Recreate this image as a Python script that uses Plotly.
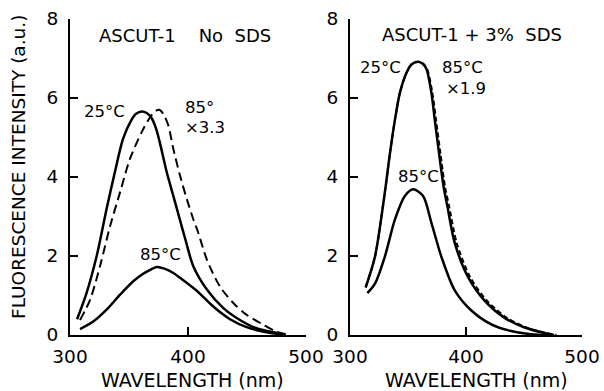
import plotly.graph_objects as go

# ---------------- data ----------------
# Left panel: ASCUT-1, no SDS
wl_L25 = [306, 314, 322.6, 331, 338, 345, 352, 356, 361, 365, 369, 373, 376, 382, 387.5, 393, 397.5, 404.5, 416, 430, 444, 458, 472, 481]
I_L25 = [0.40, 1.06, 2.0, 3.19, 4.12, 4.97, 5.44, 5.60, 5.66, 5.62, 5.50, 5.22, 4.89, 4.12, 3.53, 2.93, 2.45, 1.74, 1.15, 0.68, 0.38, 0.17, 0.07, 0.02]

wl_L85x = [308.5, 317, 325.4, 334, 342.4, 350.8, 361, 368, 372, 375.7, 379, 383.3, 387.5, 393.2, 399, 404.5, 408, 416, 427, 438.4, 449.7, 463.8, 475, 484]
I_L85x = [0.38, 0.89, 1.74, 2.76, 3.61, 4.46, 5.15, 5.52, 5.66, 5.70, 5.60, 5.31, 4.72, 4.04, 3.44, 2.93, 2.65, 1.91, 1.23, 0.81, 0.51, 0.26, 0.08, 0.01]

wl_L85 = [308.5, 319.7, 331, 342.4, 353.6, 362, 368, 373.5, 380, 387.6, 393.2, 407.4, 421.4, 435.6, 449.7, 466.7, 480]
I_L85 = [0.15, 0.34, 0.64, 1.02, 1.36, 1.55, 1.65, 1.72, 1.68, 1.57, 1.45, 1.12, 0.72, 0.40, 0.20, 0.07, 0.01]

# Right panel: ASCUT-1 + 3% SDS
wl_R25 = [313.5, 321.5, 330, 334.4, 338.7, 343, 348.7, 353, 358.7, 363, 366, 370.2, 373.1, 376.8, 380.8, 384, 390.3, 401.7, 416, 433, 450.5, 467.7, 476]
I_R25 = [1.2, 1.98, 3.6, 4.59, 5.44, 6.13, 6.64, 6.85, 6.92, 6.86, 6.73, 6.13, 5.44, 4.59, 3.74, 3.25, 2.33, 1.47, 0.87, 0.44, 0.19, 0.05, 0.0]

wl_R85x = [313.5, 321.5, 330, 334.4, 338.7, 343, 348.7, 353, 358.7, 363, 366.5, 371, 374.2, 378, 382, 385.5, 392, 403.5, 418, 435, 452, 469, 478]
I_R85x = [1.22, 1.98, 3.6, 4.59, 5.44, 6.13, 6.64, 6.85, 6.92, 6.87, 6.73, 6.13, 5.44, 4.59, 3.74, 3.25, 2.33, 1.47, 0.87, 0.44, 0.19, 0.05, 0.0]

wl_R85 = [315, 321.5, 330, 338.7, 347.3, 354.4, 363, 370.2, 378.8, 390.3, 404.6, 421.8, 439, 456, 473]
I_R85 = [1.06, 1.30, 1.98, 2.92, 3.52, 3.69, 3.52, 2.84, 1.98, 1.13, 0.62, 0.27, 0.10, 0.02, 0.0]

x_ticks = [300, 400, 500]
y_ticks = [0, 2, 4, 6, 8]

FONT = "DejaVu Sans"
BLACK = "#000000"

fig = go.Figure()

def add_curve(x, y, xa, ya, dash="solid", width=2.5):
    fig.add_trace(go.Scatter(
        x=x, y=y, xaxis=xa, yaxis=ya, mode="lines",
        line=dict(color=BLACK, width=width, dash=dash, shape="spline", smoothing=0.8),
        showlegend=False, hoverinfo="skip"))

add_curve(wl_L25, I_L25, "x", "y")
add_curve(wl_L85x, I_L85x, "x", "y", dash="9px,5px", width=2)
add_curve(wl_L85, I_L85, "x", "y")
add_curve(wl_R25, I_R25, "x2", "y2")
add_curve(wl_R85x, I_R85x, "x2", "y2", dash="5px,3px", width=2)
add_curve(wl_R85, I_R85, "x2", "y2")

W, H = 604, 391
def px(v):
    return v / W
def py(v):
    return 1 - v / H

axis_common = dict(
    showline=True, linecolor=BLACK, linewidth=2,
    ticks="inside", ticklen=8, tickwidth=2, tickcolor=BLACK,
    showgrid=False, zeroline=False, mirror=False, automargin=False,
    tickfont=dict(family=FONT, size=18.5, color=BLACK),
)

fig.update_layout(
    width=W, height=H,
    margin=dict(l=0, r=0, t=0, b=0),
    paper_bgcolor="white", plot_bgcolor="white",
    font=dict(family=FONT, color=BLACK),
    xaxis=dict(domain=[px(70), px(306)], range=[300, 500], tickvals=x_ticks, anchor="y",
               ticklabelstandoff=4, **axis_common),
    yaxis=dict(domain=[py(335), py(19)], range=[0, 8], tickvals=y_ticks, anchor="x",
               ticklabelstandoff=6, **axis_common),
    xaxis2=dict(domain=[px(350), px(582)], range=[300, 500], tickvals=x_ticks, anchor="y2",
                ticklabelstandoff=4, **axis_common),
    yaxis2=dict(domain=[py(335), py(19)], range=[0, 8], tickvals=y_ticks, anchor="x2",
                ticklabelstandoff=6, **axis_common),
)

def label(text, x, y, xref, yref, size=16.5, anchor="left"):
    fig.add_annotation(text=text, x=x, y=y, xref=xref, yref=yref, showarrow=False,
                       xanchor=anchor, yanchor="middle",
                       font=dict(family=FONT, size=size, color=BLACK))

nb = "\u00a0"
label("ASCUT-1" + nb * 4 + "No" + nb * 2 + "SDS", 323, 7.58, "x", "y", size=18)
label("25°C", 310, 5.66, "x", "y")
label("85°", 396, 5.76, "x", "y")
label("×3.3", 396, 5.26, "x", "y")
label("85°C", 357.5, 2.04, "x", "y")

label("ASCUT-1" + nb + "+" + nb + "3%" + nb * 2 + "SDS", 326, 7.62, "x2", "y2", size=18)
label("25°C", 307, 6.77, "x2", "y2")
label("85°C", 377.5, 6.77, "x2", "y2")
label("×1.9", 381, 6.24, "x2", "y2")
label("85°C", 339.5, 4.0, "x2", "y2")

# axis titles
for cx in (192, 476):
    fig.add_annotation(text="WAVELENGTH (nm)", x=px(cx), y=py(380), xref="paper", yref="paper",
                       showarrow=False, xanchor="center", yanchor="middle",
                       font=dict(family=FONT, size=19, color=BLACK))
fig.add_annotation(text="FLUORESCENCE INTENSITY (a.u.)", x=px(18), y=py(167), xref="paper", yref="paper",
                   showarrow=False, xanchor="center", yanchor="middle", textangle=-90,
                   font=dict(family=FONT, size=18.5, color=BLACK))

fig.write_html("out.html", config={"displayModeBar": False},
               post_script="document.body.style.margin='0';document.body.style.overflow='hidden';")
